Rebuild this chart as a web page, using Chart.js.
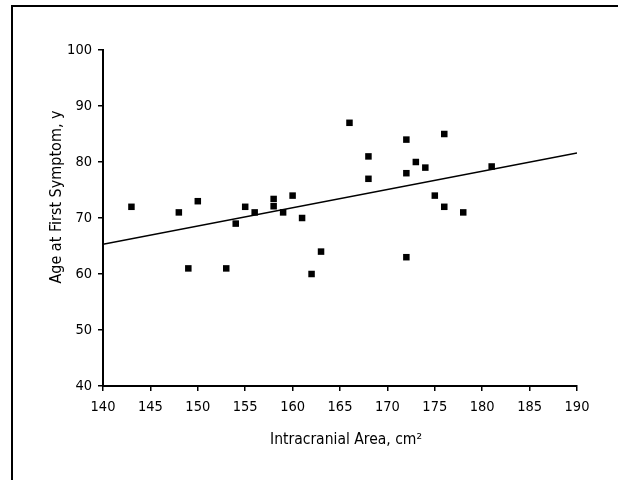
<!DOCTYPE html>
<html>
<head>
<meta charset="utf-8">
<script src="https://cdn.jsdelivr.net/npm/chart.js@4"></script>
<style>
  html, body { margin: 0; padding: 0; background: #fff; }
  #wrap { width: 618px; height: 480px; }
</style>
</head>
<body>
<div id="wrap"><canvas id="scatterChart" width="618" height="480"></canvas></div>
<script>
// Intracranial area vs age at first symptom
var areas = [143, 148, 149, 150, 153, 154, 155, 156, 158, 158, 159, 160, 161, 162, 163, 166, 168, 168, 172, 172, 172, 173, 174, 175, 176, 176, 178, 181];
var ages  = [72, 71, 61, 73, 61, 69, 72, 71, 73.4, 72.1, 71, 74, 70, 60, 64, 87, 81, 77, 84, 78, 63, 80, 79, 74, 85, 72, 71, 79.2];

// regression line end points
var fitX = [140, 190];
var fitY = [65.3, 81.6];

var xTicks = [140, 145, 150, 155, 160, 165, 170, 175, 180, 185, 190];
var yTicks = [40, 50, 60, 70, 80, 90, 100];

var xTitle = 'Intracranial Area, cm\u00B2';
var yTitle = 'Age at First Symptom, y';

var FONT = '"DejaVu Sans Condensed", "Liberation Sans Narrow", "Liberation Sans", Arial, sans-serif';

var points = areas.map(function(a, i) { return { x: a, y: ages[i] }; });
var fitPoints = fitX.map(function(a, i) { return { x: a, y: fitY[i] }; });

// frame lines and axis titles
var decorPlugin = {
    id: 'decor',
    afterDraw: function(chart) {
        var ctx = chart.ctx;
        ctx.save();
        ctx.strokeStyle = '#000';
        ctx.lineWidth = 2;
        ctx.beginPath();
        ctx.moveTo(12, 480);
        ctx.lineTo(12, 6);
        ctx.lineTo(618, 6);
        ctx.stroke();

        ctx.fillStyle = '#000';
        ctx.textAlign = 'center';
        ctx.textBaseline = 'middle';
        ctx.font = '15.5px ' + FONT;
        ctx.fillText(xTitle, 346, 440);

        ctx.font = '16px ' + FONT;
        ctx.translate(57, 197);
        ctx.rotate(-Math.PI / 2);
        ctx.fillText(yTitle, 0, 0);
        ctx.restore();
    }
};

new Chart(document.getElementById('scatterChart').getContext('2d'), {
    type: 'scatter',
    data: {
        datasets: [{
            label: 'Patients',
            data: points,
            pointStyle: 'rect',
            pointRadius: 4.6,
            pointHoverRadius: 4.6,
            backgroundColor: '#000',
            borderColor: '#000',
            borderWidth: 0
        }, {
            label: 'Fit',
            type: 'line',
            data: fitPoints,
            borderColor: '#000',
            borderWidth: 1.5,
            pointRadius: 0,
            fill: false
        }]
    },
    options: {
        responsive: false,
        animation: false,
        layout: {
            padding: { left: 0, top: 50, right: 41, bottom: 0 }
        },
        scales: {
            x: {
                type: 'linear',
                min: 140,
                max: 190,
                afterBuildTicks: function(scale) {
                    scale.ticks = xTicks.map(function(v) { return { value: v }; });
                },
                afterFit: function(scale) { scale.height = 94; },
                ticks: {
                    color: '#000',
                    padding: 8,
                    maxRotation: 0,
                    font: { family: FONT, size: 14.5 }
                },
                grid: {
                    drawOnChartArea: false,
                    drawTicks: true,
                    tickLength: 5,
                    color: '#000',
                    lineWidth: 1.5
                },
                border: { color: '#000', width: 2 },
                title: { display: false }
            },
            y: {
                type: 'linear',
                min: 40,
                max: 100,
                afterBuildTicks: function(scale) {
                    scale.ticks = yTicks.map(function(v) { return { value: v }; });
                },
                afterFit: function(scale) { scale.width = 103; },
                ticks: {
                    color: '#000',
                    padding: 6,
                    font: { family: FONT, size: 14.5 }
                },
                grid: {
                    drawOnChartArea: false,
                    drawTicks: true,
                    tickLength: 5,
                    color: '#000',
                    lineWidth: 1.5
                },
                border: { color: '#000', width: 2 },
                title: { display: false }
            }
        },
        plugins: {
            legend: { display: false },
            tooltip: { enabled: false }
        }
    },
    plugins: [decorPlugin]
});
</script>
</body>
</html>
